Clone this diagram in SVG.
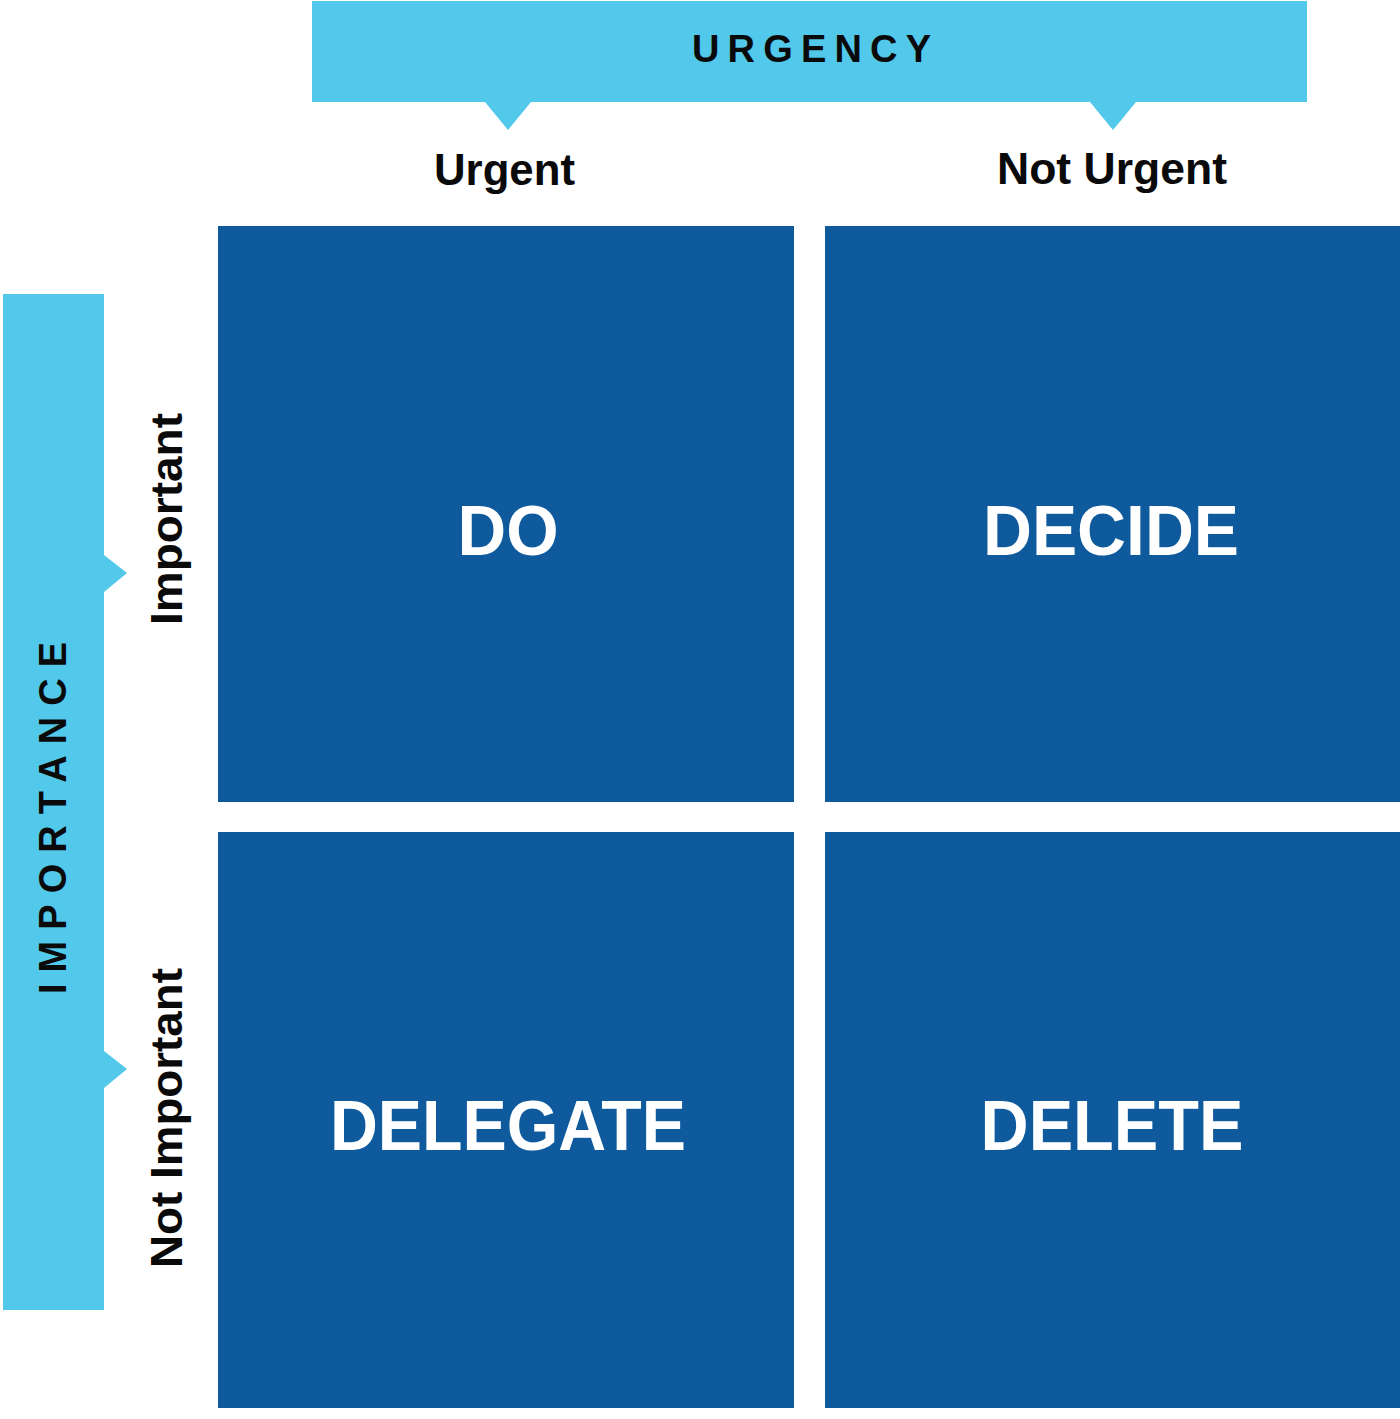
<svg xmlns="http://www.w3.org/2000/svg" width="1400" height="1419" viewBox="0 0 1400 1419">
<style>
.banner{fill:#52C8EA}
.quad{fill:#0E5A9C}
.axis{font-family:"Liberation Sans",Arial,sans-serif;font-weight:bold;font-size:38px;fill:#0a0a0a}
.lab{font-family:"Liberation Sans",Arial,sans-serif;font-weight:bold;font-size:45px;fill:#0a0a0a}
.big{font-family:"Liberation Sans",Arial,sans-serif;font-weight:bold;font-size:70px;fill:#ffffff;text-anchor:middle}
</style>
<rect width="1400" height="1419" fill="#ffffff"/>
<g id="urgency-banner">
<path class="banner" d="M312,1 H1307 V102 H1136 L1113,130 L1090,102 H531 L508,130 L485,102 H312 Z"/>
<text class="axis" x="692" y="62" textLength="239" lengthAdjust="spacing">URGENCY</text>
</g>
<g id="importance-banner">
<path class="banner" d="M3,294 H104 V555 L127,573 L104,592 V1051 L127,1069 L104,1088 V1310 H3 Z"/>
<text class="axis" transform="translate(66,994) rotate(-90)" x="0" y="0" textLength="352" lengthAdjust="spacing">IMPORTANCE</text>
</g>
<g id="label-urgent"><text class="lab" x="434" y="185" textLength="141" lengthAdjust="spacingAndGlyphs">Urgent</text></g>
<g id="label-not-urgent"><text class="lab" x="997" y="184" textLength="230" lengthAdjust="spacingAndGlyphs">Not Urgent</text></g>
<g id="label-important"><text class="lab" transform="translate(182,625) rotate(-90)" x="0" y="0" textLength="212" lengthAdjust="spacingAndGlyphs">Important</text></g>
<g id="label-not-important"><text class="lab" transform="translate(182,1268) rotate(-90)" x="0" y="0" textLength="300" lengthAdjust="spacingAndGlyphs">Not Important</text></g>
<g id="quad-do">
<rect class="quad" x="218" y="226" width="576" height="576"/>
<text class="big" x="508" y="555" textLength="101" lengthAdjust="spacingAndGlyphs">DO</text>
</g>
<g id="quad-decide">
<rect class="quad" x="825" y="226" width="575" height="576"/>
<text class="big" x="1111" y="555" textLength="256" lengthAdjust="spacingAndGlyphs">DECIDE</text>
</g>
<g id="quad-delegate">
<rect class="quad" x="218" y="832" width="576" height="576"/>
<text class="big" x="508" y="1150" textLength="356" lengthAdjust="spacingAndGlyphs">DELEGATE</text>
</g>
<g id="quad-delete">
<rect class="quad" x="825" y="832" width="575" height="576"/>
<text class="big" x="1112" y="1150" textLength="263" lengthAdjust="spacingAndGlyphs">DELETE</text>
</g>
<g id="connectors"></g>
</svg>
